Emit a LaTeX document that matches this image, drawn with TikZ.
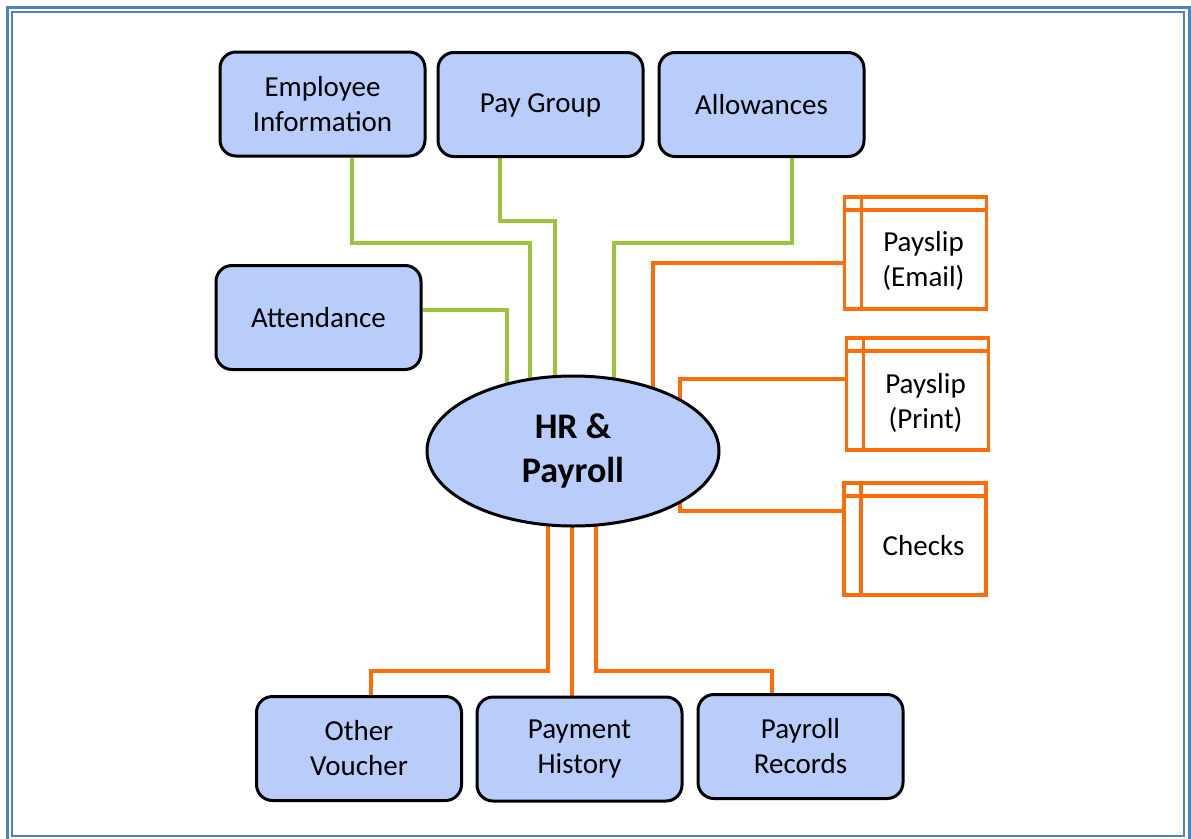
\documentclass[tikz,border=0pt]{standalone}
\usepackage{fontspec}
\setmainfont{Carlito}
\usetikzlibrary{shapes.geometric,backgrounds}
\definecolor{boxfill}{RGB}{185,205,250}
\definecolor{conorange}{RGB}{255,108,10}
\definecolor{congreen}{RGB}{155,195,60}
\definecolor{frameblue}{RGB}{79,129,189}
\tikzset{
  bluebox/.style={draw=black, line width=3pt, fill=boxfill, rounded corners=16pt,
    minimum width=205pt, minimum height=104pt, inner sep=0pt, align=center,
    font=\fontsize{29}{35}\selectfont},
  hrell/.style={ellipse, draw=black, line width=3pt, fill=boxfill,
    minimum width=292pt, minimum height=150pt, inner sep=0pt, align=center,
    font=\bfseries\fontsize{36}{44}\selectfont},
  docbox/.style={draw=conorange, line width=3.5pt, fill=white,
    minimum width=142pt, minimum height=112pt, inner sep=0pt,
    path picture={
      \draw[conorange, line width=3.5pt]
        ([yshift=-13pt]path picture bounding box.north west) -- ([yshift=-13pt]path picture bounding box.north east)
        ([xshift=17pt]path picture bounding box.north west) -- ([xshift=17pt]path picture bounding box.south west);
    }},
  doctext/.style={align=center, inner sep=0pt, font=\fontsize{29}{35}\selectfont},
  gline/.style={draw=congreen, line width=3.2pt},
  oline/.style={draw=conorange, line width=3.5pt},
}
\begin{document}
\begin{tikzpicture}[x=1pt, y=-1pt]
\useasboundingbox (0,0) rectangle (1191,838);
% frame
\draw[frameblue, line width=3pt] (7.5,7.5) rectangle (1189.5,845);
\draw[frameblue, line width=1.6pt] (11.8,11.8) rectangle (1183.8,836);

% nodes
\node[bluebox] (emp) at (322.5,104) {Employee\\Information};
\node[bluebox, text depth=2pt] (pay) at (540.5,104.5) {Pay Group};
\node[bluebox] (allow) at (761.5,104.5) {Allowances};
\node[bluebox] (att) at (318.5,317.5) {Attendance};
\node[hrell] (hr) at (573,451) {HR \&\\Payroll};
\node[bluebox] (other) at (359,748.5) {Other\\Voucher};
\node[bluebox] (hist) at (579.5,749) {Payment\\History};
\node[bluebox] (rec) at (800.5,746.5) {Payroll\\Records};

\node[docbox] (email) at (915.5,253) {};
\node[doctext] (emailt) at (923.5,260.5) {Payslip\\(Email)};
\node[docbox] (print) at (917.5,394) {};
\node[doctext] (printt) at (925.5,402.5) {Payslip\\(Print)};
\node[docbox] (checks) at (915,539) {};
\node[doctext] (checkst) at (923.5,546) {Checks};

% connectors
\begin{pgfonlayer}{background}
\draw[gline] ([xshift=29.5pt]emp.south) |- (530,243) -- (530,0 |- hr.center);
\draw[gline] ([xshift=-40.5pt]pay.south) |- (555,221) -- (555,0 |- hr.center);
\draw[gline] ([xshift=30.5pt]allow.south) |- (614,243) -- (614,0 |- hr.center);
\draw[gline] ([yshift=7.5pt]att.east) -- (507,310) -- (507,0 |- hr.center);

\draw[oline] ([yshift=-10pt]email.west) -| (653,0 |- hr.center);
\draw[oline] ([yshift=15pt]print.west) -| (680,0 |- hr.center);
\draw[oline] ([yshift=28pt]checks.west) -| (680,0 |- hr.center);

\draw[oline] ([xshift=12pt]other.north) |- (548,671) -- (548,0 |- hr.center);
\draw[oline] ([xshift=-7.5pt]hist.north) -- (572,0 |- hr.center);
\draw[oline] ([xshift=-28.5pt]rec.north) |- (596,671) -- (596,0 |- hr.center);
\end{pgfonlayer}
\end{tikzpicture}
\end{document}
